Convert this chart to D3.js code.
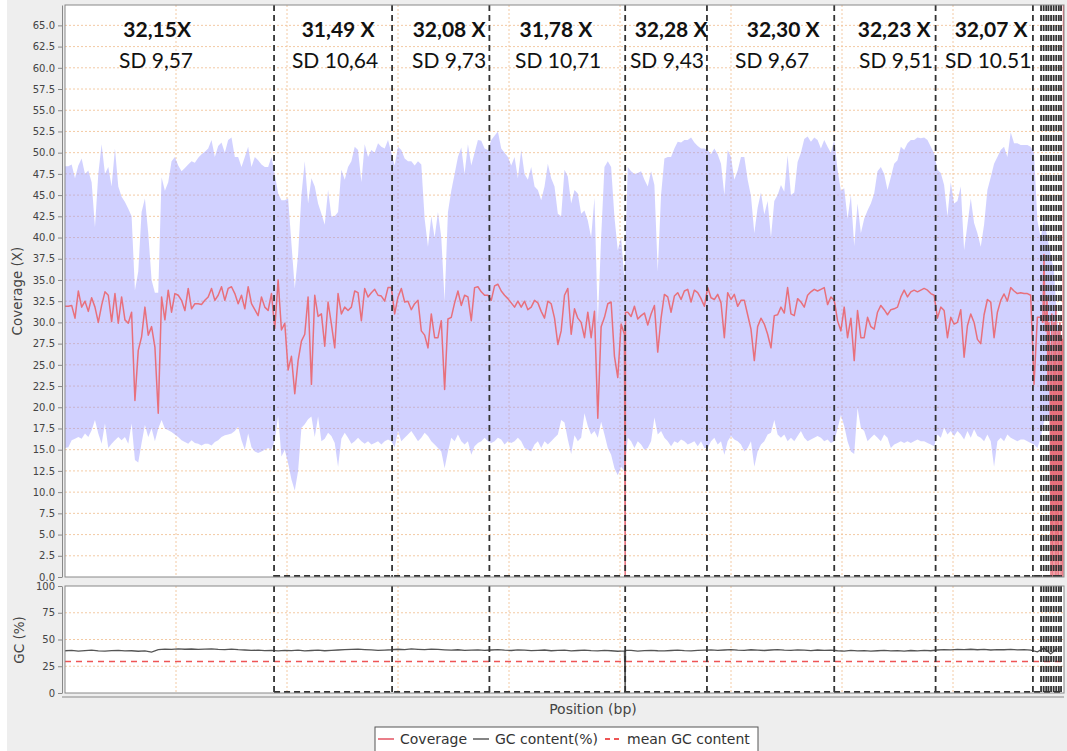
<!DOCTYPE html>
<html><head><meta charset="utf-8">
<script src="https://cdn.jsdelivr.net/npm/d3@7"></script>
<style>body{margin:0;background:#fff;} svg{display:block;}</style>
</head><body>
<svg id="chart" width="1067" height="751"></svg>
<script>
// ---------------- data ----------------
const covStep = 9; // Mb per coverage bin
const coverage = [
31.9,31.9,32,30.5,33.7,31.8,32.5,31.3,32.9,31.8,
30,32,33.6,33.2,30.1,33.4,29.9,33,30.3,29.9,
31.2,20.8,26.7,28.3,31.8,28.5,29.5,27.1,19.3,33,
30.3,33.8,31.2,33.4,33.2,32.6,31.4,34,31.6,32.2,
32.2,32.1,32.6,33,34,32.6,33.2,34.2,32.6,34,
34.2,33.4,32.2,33.2,31.6,34.2,32.2,31.5,30.8,33,
31.8,31.4,33.4,29.3,35,29.1,29.9,24.4,26,21.6,
25.5,27.8,28.6,33,22.7,33.2,30.7,31,27.2,32.4,
29.8,27,33.4,31,31.8,31.4,31.8,33.7,33.5,30.2,
34,33,33.5,33.9,33.2,33.1,32.5,34.1,34.1,31,
33,34,32.4,32.5,31.5,32.2,32.6,29,28.5,27,
31,28.2,28.2,30.2,22.1,30.4,30.6,32.3,33.7,32,
33.2,33,30.2,34.1,34.2,33.6,33.2,33.2,32.6,34.3,
34.5,33.7,33.2,32.8,32.3,31.8,32.5,31.8,32.5,31.5,
31.8,32.6,32.3,31.3,30.5,32.5,32.2,30.5,27.4,29,
33.2,34,28.6,31.6,30.5,30,28.2,31.2,28.2,31.3,
18.7,29.5,30.6,32.2,32.4,26,23.5,29.8,28.6,31.2,
30.7,31.9,30.4,30.8,31.1,29.7,31,32,26.5,30.5,
33.3,33,31.2,33.1,33.5,32.7,33.7,33.9,32.4,33.8,
33.5,32.8,31.9,34.1,32.9,32.7,33.3,32.3,28.2,33.5,
32.7,33.3,31.9,32.6,32.6,30.9,29.2,25.5,29.5,30.5,
29.8,28.6,27,30.8,30.9,31.8,31.1,34.1,31,30.8,
32.8,32.4,31.8,33.2,33.6,33.9,33.7,33.9,34.1,32.1,
33,32.6,30.2,29,31.8,28.2,30.5,25.5,31.4,28.2,
28.2,30.6,29.5,29.2,31.2,32,31.5,30.9,31.5,31.6,
31.8,33,33.8,33,33.6,33.8,33.6,33.8,34,33.8,
33.4,33.2,30.5,31.8,31.4,28.2,30.6,29.8,30,31.5,
25.9,29.6,31,30,28,27.5,30.9,32.7,32.4,28.2,
31.2,32.6,33.35,32.5,34.1,33.7,33.4,33.5,33.4,33.4,
33.2,22.7,30.6,30.6
];
const bandUpper = [
48.4,48.4,48.6,47,48.5,49.3,47.5,47.9,46.5,41.2,
47.5,51,47.5,48.3,46,50.5,46,44.8,44.2,43.4,
42.5,33.8,36,43,44.6,40.5,35,33.5,33.5,47.1,
45.5,46.5,49,49.5,48.5,47.8,48.2,48.6,49,48.8,
49.4,49.8,50.1,50.5,51.5,49.5,50.8,51.2,50,51.5,
51.8,49.5,49.5,48.3,49.5,50.7,48.3,49.5,49.1,48.6,
48.3,48.3,49.5,47.5,45.2,44.4,44.4,44.6,39.3,34,
38,45,49,44,47,46,44,42.8,41.5,45.6,
42.5,42.5,43,48,46.8,48.3,49,50.7,50.3,46.5,
51,49.5,50.3,50,51.1,50.7,50.5,51.5,50,48.5,
50.7,50.3,49.3,49,49,48.5,49,48.6,42.2,38.9,
42.5,40,43,40,32.5,43,45.5,47.5,49.5,50.6,
47.5,51,48.5,50,51.5,51.4,50.5,50.3,51.5,52,
52.5,50.5,50,49.5,48.5,49.5,47,50.3,47.5,46.8,
48.3,46,45.6,44.4,46,48.7,47,46,42.8,42.5,
48,47.2,44,45.6,45.2,42.8,43.2,42,40,44.7,
30,40,48.3,49,48.3,42.4,38.5,40,35,48.3,
47.8,47.5,47.6,47.8,46.8,46,47.8,46.2,36,45,
49.3,49.5,49.5,50.5,51.3,51.2,51.5,51.5,51.8,51.2,
50.8,50.5,50.5,50.3,49.8,50.5,49.8,48.7,45,50.3,
49.5,46.8,47.9,49.5,49.5,46.8,44.9,40.5,43.5,45.3,
42.7,44.3,40,44.3,45,46.2,45.4,49.7,45,45.3,
48.9,50,51.6,51.9,51.3,51.8,51.5,50.5,51.5,50.7,
50,51.5,48,45.5,45.8,42.2,45,39,44,40.5,
42.2,43.2,44,45.2,47.8,48.3,47.5,45.6,47.1,48.7,
49.1,50.7,50.3,51.1,51.5,51.5,51.8,51.7,51.8,51.5,
50.7,49.9,48,47.6,46.2,42.5,46.5,44,44.3,46,
38.5,41.5,44.6,41.7,40.5,38.9,41.5,45.6,47.1,48.7,
49.5,50.3,50.7,49.5,52.4,51.1,51.1,50.9,50.9,50.9,
50.7,50,42,40,42,40,38,36,30,28
];
const bandLower = [
15.2,15.3,16.1,16.3,16.5,16.3,16.9,16.5,17.3,18.5,
16.9,15.7,18.1,15.2,15.7,16.1,16.5,16.1,16.5,15.7,
18.1,13.8,13.5,15.8,17.9,16.5,17.5,16,17.5,18.5,
17.5,17.3,17.1,16.8,16.5,16.1,15.9,15.7,16.1,15.8,
15.7,15.5,15.7,15.7,15.5,15.9,16.1,16.5,16.7,16.8,
16.9,17.2,17.7,16.1,15,16.9,15.3,14.8,14.6,14.8,
15,15.2,15,16.1,19,14.2,15,13.4,11.5,10.2,
12.5,17.6,18,18.6,18.9,16.5,18.9,16,16.3,17,
16.6,15.8,13,16.3,17,16.4,15.7,16,16.4,16,
15.7,16,15.6,15.8,16,15.6,16,16.2,16,15.3,
17.2,16,16.4,16.8,17.2,16.6,16,16.4,17,16.6,
16,15.6,15.2,14.8,12.8,14.8,16.4,16,16.8,16,
15.6,16,14.4,15.4,15.8,16,16.4,16,15.8,16,
16.4,16.2,15.6,16,15.8,16,16.4,16,15.2,15,
14.8,15.6,16,15.2,16,15.6,16,16.4,16.8,18.5,
18.2,16.2,14.5,16.7,16,16.4,19.3,17.8,16.8,17.2,
16.4,18.3,16.8,15.2,14.4,12.8,12,13,12.5,16.4,
16,15.2,16,15.6,15,15.2,16,18.8,16.8,17.2,
16.4,16,15.4,16,15.8,16.2,16,15.6,15.8,16,
15.4,16,15.2,15.2,16,16.4,15.6,16,14.4,16,
16.6,16.2,16,15.6,14.8,15.2,16,13,14.8,15.6,
16,16.8,17,18.5,16.8,16.4,16.8,16,16.4,16,
16.6,17.2,16.4,16,16.2,16.4,16.6,16.4,16,16.2,
15.8,16,17.5,19.1,17.8,16,14.8,14.5,19.9,17.6,
17.2,16,16.4,16.8,16.4,16,16.8,16.4,15.2,15.6,
15.8,16,15.8,16,15.8,16,16.2,16,16,15.8,
15.6,15.4,16.8,16.4,17.6,16.8,17.2,16.6,17.2,16.8,
16.2,17.2,16.4,17.4,16.6,16.4,16,16.8,16,13,
16,16.4,16,16.8,16.4,16.2,16,16.2,16.2,16,
15.8,15.6,15.2,16.4,18.3,19,18,17,16,16
];
// small contigs at the end of the genome (Mb, X)
const tailPos = [2643,2646,2648,2651,2654,2657,2659,2662,2665,2667,2670,2673,2676,2678,2681,2684,2686,2689,2692,2694,2697,2699,2700];
const tailCov = [30,38,31,29,33,22,30,26,0,31,0,30,0,32,0,29,0,30,0,28,0,80,80];
// assembly gap where coverage and GC fall to zero (Mb)
const gapPositions = [1514];

const gcStep = 18; // Mb per GC bin
const gcContent = [
39.5,39.8,39.2,39.6,40.0,39.4,39.1,39.6,39.8,39.3,39.5,39.0,39.4,38.2,
40.6,41.0,40.8,41.2,40.9,41.1,40.7,41.0,41.3,40.8,40.6,41.0,40.5,40.2,39.8,40.0,39.6,
39.8,39.4,39.9,39.6,40.1,39.3,39.7,40.0,39.5,39.8,40.2,40.5,40.8,41.0,40.6,40.3,39.9,40.1,
40.4,40.9,40.6,41.2,40.8,40.5,41.0,40.7,40.3,40.0,40.4,39.8,40.1,40.3,39.9,
40.2,40.5,40.0,39.7,40.3,40.1,39.6,39.9,40.2,39.5,39.8,40.0,39.4,39.7,40.1,39.6,39.3,39.8,39.5,39.0,
39.4,39.8,39.2,39.6,39.9,39.5,39.3,39.7,40.0,39.6,39.4,39.8,40.1,
40.3,39.9,40.2,40.6,40.1,39.8,40.4,40.0,39.7,40.2,40.5,40.1,39.9,40.3,40.0,39.6,40.2,39.8,40.0,
39.5,39.2,39.8,39.4,39.6,39.1,39.5,39.9,39.3,39.6,39.2,39.7,39.4,39.8,39.5,
40.2,40.6,40.3,40.8,40.5,40.9,40.4,40.7,40.2,40.6,40.4,40.8,40.3,40.5,40.1,
38.5,42.0,36.5,41.5
];
const meanGC = 29.5;

// chromosome / contig boundaries (Mb)
const boundaries = [565,884,1147,1514,1735,2079,2353,2616,2638,2645,2652,2658,2665,2672,2679,2686,2692];

// annotations
const meanLabels = ["32,15X","31,49 X","32,08 X","31,78 X","32,28 X","32,30 X","32,23 X","32,07 X"];
const meanLabelPos = [249,738,1038,1327,1638,1941,2241,2503];
const sdLabels = ["SD 9,57","SD 10,64","SD 9,73","SD 10,71","SD 9,43","SD 9,67","SD 9,51","SD 10.51"];
const sdLabelPos = [246,730,1038,1333,1627,1911,2246,2495];

const covTicks = [0,2.5,5,7.5,10,12.5,15,17.5,20,22.5,25,27.5,30,32.5,35,37.5,40,42.5,45,47.5,50,52.5,55,57.5,60,62.5,65];
const gcTicks = [0,25,50,75,100];
const xGridTicks = [300,600,900,1200,1500,1800,2100,2400];

const legendItems = [
  {label:"Coverage", color:"#e8707c", dash:null},
  {label:"GC content(%)", color:"#777777", dash:null},
  {label:"mean GC content", color:"#ee5555", dash:"5,4"}
];

// ---------------- drawing ----------------
const svg = d3.select('#chart');
svg.append('rect').attr('x',7).attr('y',0).attr('width',1060).attr('height',751).attr('fill','#eeeeee');

const L = 65, R = 1064, T1 = 5, B1 = 577, T2 = 586, B2 = 693;
const x = d3.scaleLinear().domain([0, 2700]).range([L, R]);
const yC = d3.scaleLinear().domain([0, 67.4]).range([B1, T1]);
const yG = d3.scaleLinear().domain([0, 100]).range([B2, T2]);

const defs = svg.append('defs');
defs.append('clipPath').attr('id','clipTop').append('rect').attr('x',L).attr('y',T1).attr('width',R-L).attr('height',B1-T1);
defs.append('clipPath').attr('id','clipGC').append('rect').attr('x',L).attr('y',T2).attr('width',R-L).attr('height',B2-T2);

const gridColor = '#f2c49a';
const tickFont = 'DejaVu Sans, Verdana, sans-serif';

function drawPanel(top, bottom, y, ticks, fmt) {
  const g = svg.append('g');
  g.append('rect').attr('x',L).attr('y',top).attr('width',R-L).attr('height',bottom-top).attr('fill','#ffffff');
  g.selectAll('line.hg').data(ticks.filter(t => y(t) > top + 1 && y(t) < bottom - 1)).enter().append('line')
    .attr('x1',L).attr('x2',R).attr('y1',d=>y(d)).attr('y2',d=>y(d))
    .attr('stroke',gridColor).attr('stroke-width',0.9).attr('stroke-dasharray','2,2');
  g.selectAll('line.vg').data(xGridTicks).enter().append('line')
    .attr('x1',d=>x(d)).attr('x2',d=>x(d)).attr('y1',top).attr('y2',bottom)
    .attr('stroke',gridColor).attr('stroke-width',0.9).attr('stroke-dasharray','2,2');
  const ax = svg.append('g').attr('transform',`translate(${L-3},0)`)
    .call(d3.axisLeft(y).tickValues(ticks).tickFormat(fmt).tickSize(4).tickSizeOuter(0));
  ax.select('.domain').attr('stroke','#888');
  ax.selectAll('.tick line').attr('stroke','#888');
  ax.selectAll('.tick text').attr('fill','#444').style('font-family',tickFont).style('font-size','10px').attr('x',-7);
  return g;
}

drawPanel(T1, B1, yC, covTicks, d3.format('.1f'));
drawPanel(T2, B2, yG, gcTicks, d3.format('d'));

// insert zero-drops at assembly gaps: the series falls to 0 at the gap and resumes with its next value
function withGaps(pts) {
  pts.sort((a,b)=>a.pos-b.pos);
  gapPositions.forEach(gp=>{
    const nextIdx = pts.findIndex(p=>p.pos > gp);
    const next = nextIdx >= 0 ? pts[nextIdx] : null;
    pts.push({pos:gp, v:0});
    if (next) pts.push({pos:gp+0.8, v:next.v});
  });
  pts.sort((a,b)=>a.pos-b.pos);
  return pts;
}

// coverage band
const binData = bandUpper.map((u,i)=>({pos:i*covStep, up:u, lo:bandLower[i]}));
const topG = svg.append('g').attr('clip-path','url(#clipTop)');
topG.append('path').datum(binData)
  .attr('d', d3.area().x(d=>x(d.pos)).y0(d=>yC(d.lo)).y1(d=>yC(d.up)))
  .attr('fill','#9999ff').attr('fill-opacity',0.45);

// coverage line
let covPts = coverage.map((v,i)=>({pos:i*covStep, v:v}));
covPts = withGaps(covPts);
tailPos.forEach((p,i)=>covPts.push({pos:p, v:tailCov[i]}));
covPts.sort((a,b)=>a.pos-b.pos);
topG.append('path').datum(covPts)
  .attr('d', d3.line().x(d=>x(d.pos)).y(d=>yC(d.v)))
  .attr('fill','none').attr('stroke','#e8707c').attr('stroke-width',1.5).attr('stroke-linejoin','round');

// GC line
const gcG = svg.append('g').attr('clip-path','url(#clipGC)');
let gcPts = withGaps(gcContent.map((v,i)=>({pos:i*gcStep, v:v})));
gcG.append('path').datum(gcPts)
  .attr('d', d3.line().x(d=>x(d.pos)).y(d=>yG(d.v)))
  .attr('fill','none').attr('stroke','#555').attr('stroke-width',1.3);
gcG.append('line').attr('x1',L).attr('x2',R).attr('y1',yG(meanGC)).attr('y2',yG(meanGC))
  .attr('stroke','#ee5555').attr('stroke-width',1.6).attr('stroke-dasharray','6,5');

// boundaries (both panels)
[[T1,B1,topG],[T2,B2,gcG]].forEach(([t,b,g])=>{
  g.selectAll('line.bd').data(boundaries).enter().append('line')
    .attr('x1',d=>x(d)).attr('x2',d=>x(d)).attr('y1',t).attr('y2',b)
    .attr('stroke','#333').attr('stroke-width',1.8).attr('stroke-dasharray','6,4');
  g.append('line').attr('x1',x(boundaries[0])).attr('x2',R).attr('y1',b-1).attr('y2',b-1)
    .attr('stroke','#333').attr('stroke-width',1.8).attr('stroke-dasharray','6,4');
});

// plot borders
[[T1,B1],[T2,B2]].forEach(([t,b])=>{
  svg.append('rect').attr('x',L).attr('y',t).attr('width',R-L).attr('height',b-t)
    .attr('fill','none').attr('stroke','#888').attr('stroke-width',1);
});
svg.append('line').attr('x1',L-3).attr('x2',R).attr('y1',B2+4).attr('y2',B2+4).attr('stroke','#888');

// annotations
const annFont = 'Lato, "Open Sans", sans-serif';
svg.selectAll('text.mean').data(meanLabels).enter().append('text')
  .attr('x',(d,i)=>x(meanLabelPos[i])).attr('y',37).attr('text-anchor','middle')
  .style('font-family',annFont).style('font-size','21px').style('font-weight','bold').attr('fill','#111').text(d=>d);
svg.selectAll('text.sd').data(sdLabels).enter().append('text')
  .attr('x',(d,i)=>x(sdLabelPos[i])).attr('y',68).attr('text-anchor','middle')
  .style('font-family',annFont).style('font-size','21px').attr('fill','#111').text(d=>d);

// axis titles
svg.append('text').attr('transform','translate(17,291) rotate(-90)').attr('text-anchor','middle').attr('dominant-baseline','central')
  .style('font-family',tickFont).style('font-size','13.5px').attr('fill','#444').text('Coverage (X)');
svg.append('text').attr('transform','translate(19,640) rotate(-90)').attr('text-anchor','middle').attr('dominant-baseline','central')
  .style('font-family',tickFont).style('font-size','13.5px').attr('fill','#444').text('GC (%)');
svg.append('text').attr('x',593).attr('y',714).attr('text-anchor','middle')
  .style('font-family',tickFont).style('font-size','14px').attr('fill','#444').text('Position (bp)');

// legend
const lg = svg.append('g');
lg.append('rect').attr('x',375).attr('y',727).attr('width',383).attr('height',30).attr('fill','#fff').attr('stroke','#555');
const legendX = [378, 473, 605];
legendItems.forEach((it,i)=>{
  lg.append('line').attr('x1',legendX[i]).attr('x2',legendX[i]+16).attr('y1',739).attr('y2',739)
    .attr('stroke',it.color).attr('stroke-width',1.8).attr('stroke-dasharray',it.dash);
  lg.append('text').attr('x',legendX[i]+22).attr('y',744)
    .style('font-family',tickFont).style('font-size','14px').attr('fill','#333').text(it.label);
});
</script>
</body></html>
